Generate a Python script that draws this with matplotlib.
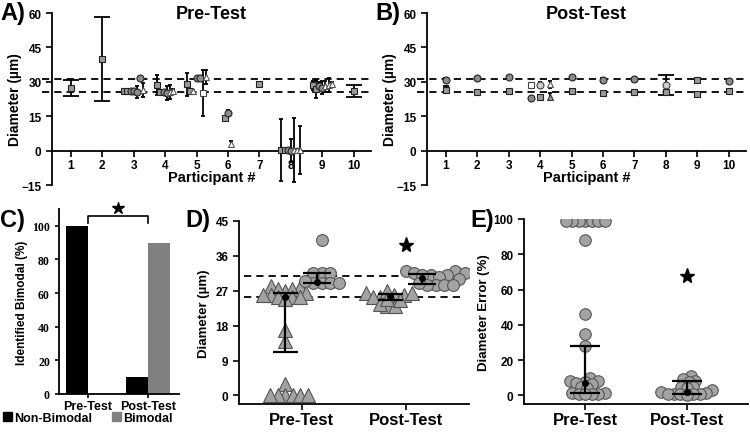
import matplotlib.pyplot as plt
import numpy as np
from matplotlib.patches import Patch

plt.rcParams['font.family'] = ['Liberation Sans', 'DejaVu Sans']
plt.rcParams['font.weight'] = 'bold'
plt.rcParams['axes.labelweight'] = 'bold'
plt.rcParams['axes.linewidth'] = 1.3

participants = [1, 2, 3, 4, 5, 6, 7, 8, 9, 10]
ref_hi = 31.2
ref_lo = 25.6

# panel A - pre-test, one list per participant (mean, sd, marker kind)
pre_means = [[27.5], [40], [26, 26, 26, 26, 25.5, 31.5, 26.5],
             [28.5, 25.5, 25.5, 25, 25.5, 26],
             [29, 26, 26, 31.5, 31.5, 25, 32], [14, 16.5, 3], [29],
             [0.3, 0.3, 0.3, 0, 0.3, 0.3, 0.3],
             [28.5, 27, 28, 27.5, 28, 28.5, 29], [26]]
pre_sds = [[3.5], [18.3], [0.3, 0.3, 0.3, 0.5, 2.5, 0.5, 3],
           [4.3, 0.5, 0.8, 3, 3, 1],
           [5, 0.3, 0.3, 0.3, 0.5, 10, 3], [1, 1, 1.2], [1],
           [13.5, 0.3, 0.3, 5, 14, 0.5, 10.5],
           [2, 4, 2, 3, 2.5, 3, 1], [2.5]]
pre_kinds = [['sq'], ['sq'], ['sq', 'sq', 'ci', 'ci', 'ci', 'ci', 'tr'],
             ['sq', 'sq', 'ci', 'ci', 'tr', 'tr'],
             ['sq', 'sq', 'tr', 'ci', 'ci', 'os', 'tr'], ['sq', 'ci', 'tr'], ['sq'],
             ['sq', 'sq', 'ci', 'ci', 'tr', 'tr', 'tr'],
             ['sq', 'sq', 'ci', 'ci', 'tr', 'tr', 'tr'], ['sq']]

# panel B - post-test, upper and lower modes
post_up_means = [[31], [31.5], [32], [28.5, 28.5, 29], [32], [31], [31.2], [28.5], [30.8], [30.5]]
post_up_sds = [[0.5], [0.5], [0.5], [0.5, 1.3, 1.5], [0.4], [0.5], [0.5], [4.3], [0.8], [0.5]]
post_up_kinds = [['ci'], ['ci'], ['ci'], ['os', 'oc', 'tr'], ['ci'], ['ci'], ['ci'], ['oc'], ['sq'], ['ci']]
post_lo_means = [[26.5], [25.6], [26], [23, 23.5, 23.5], [26], [25], [25.5], [25.5], [24.5], [25.8]]
post_lo_sds = [[1.5], [0.4], [0.5], [0.3, 0.5, 1.5], [0.5], [0.6], [0.4], [0.8], [1.2], [0.4]]
post_lo_kinds = [['sq'], ['sq'], ['sq'], ['ci', 'sq', 'tg'], ['sq'], ['sq'], ['sq'], ['sq'], ['sq'], ['sq']]

# panel C
tests = ['Pre-Test', 'Post-Test']
non_bimodal = [100, 10]
bimodal = [0, 90]

# panel D - individual diameters
pre_tri = [27, 28, 28.3, 27.5, 27.5, 25.5, 26, 26, 25.5, 26.5, 25.5, 25,
           14, 17, 3, 0, 0, 0, 0, 0, 0]
pre_circ = [40, 31.5, 31.5, 31.5, 29, 29, 29, 29, 29.5]
post_tri = [25.5, 26, 26.5, 27, 26, 25.5, 26.5, 23, 23.5, 23, 24.5, 25]
post_circ = [32, 32, 31.5, 31, 31, 30.5, 31, 31.5, 30, 28.5, 28.5, 28.5, 28.5, 29]
tri_med = [25.3, 25.6]
tri_q1 = [11.3, 24.6]
tri_q3 = [26.3, 26.1]
circ_med = [29.3, 30.4]
circ_q1 = [28.9, 28.8]
circ_q3 = [31.5, 31.3]

# panel E - diameter error
pre_err = [99, 99, 99, 99, 99, 99, 99, 88, 46, 35, 28, 10, 8, 8, 7.5, 7, 6.5,
           4.5, 4, 1.5, 1.2, 1, 0.8, 0.7, 0.5]
post_err = [11, 9, 8, 7.5, 5, 4.5, 4, 3, 2, 1.5, 1, 1, 0.8, 0.6, 0.5, 0.3]
err_med = [7, 2]
err_q1 = [1.5, 1]
err_q3 = [28, 8]

styles = {
    'sq': dict(marker='s', mfc='#9a9a9a', mec='#222222'),
    'ci': dict(marker='o', mfc='#8c8c8c', mec='#222222'),
    'tr': dict(marker='^', mfc='white', mec='#555555'),
    'tg': dict(marker='^', mfc='#9a9a9a', mec='#333333'),
    'os': dict(marker='s', mfc='white', mec='#444444'),
    'oc': dict(marker='o', mfc='#cccccc', mec='#444444'),
}
gray = '#a3a3a3'
edge = '#555555'

fig = plt.figure(figsize=(7.5, 4.35), dpi=100)


def panel_letter(x, y, s):
    fig.text(x, y, s, fontsize=17, fontweight='bold', ha='left', va='center')


def participant_axes(rect, title):
    ax = fig.add_axes(rect)
    ax.set_xlim(0.4, 10.55)
    ax.set_ylim(-15, 60)
    ax.spines['top'].set_visible(False)
    ax.spines['right'].set_visible(False)
    ax.spines['bottom'].set_position(('data', 0))
    ax.set_xticks(participants)
    ax.set_yticks([-15, 0, 15, 30, 45, 60])
    ax.tick_params(labelsize=8.5, width=1.2, length=4)
    ax.tick_params(axis='x', pad=2)
    ax.set_ylabel('Diameter (µm)', fontsize=10)
    ax.yaxis.set_label_coords(-0.094, 0.5)
    ax.set_xlabel('Participant #', fontsize=10.5)
    ax.xaxis.set_label_coords(0.5, 0.085)
    for v in (ref_hi, ref_lo):
        ax.axhline(v, xmin=-0.03, xmax=1, color='black', lw=1.3,
                   dashes=(4, 2.8), clip_on=False, zorder=1)
    ax.text(0.5, 1.0, title, transform=ax.transAxes, ha='center', va='center',
            fontsize=13, fontweight='bold')
    return ax


def draw_group(ax, p, means, sds, kinds, spacing):
    n = len(means)
    for i in range(n):
        x = p + (i - (n - 1) / 2) * spacing
        cap = (6 if sds[i] > 1.5 else 2.5) if n == 1 else 1.5
        ax.errorbar(x, means[i], yerr=sds[i], color='black', lw=1.3,
                    capsize=cap, capthick=1.3, zorder=2, fmt='none')
        ax.plot(x, means[i], ms=5, mew=0.8, ls='none', zorder=3,
                **styles[kinds[i]])


ax_a = participant_axes([0.0693, 0.5724, 0.4253, 0.3954], 'Pre-Test')
for j, p in enumerate(participants):
    draw_group(ax_a, p, pre_means[j], pre_sds[j], pre_kinds[j], 0.1)

ax_b = participant_axes([0.5693, 0.5724, 0.4253, 0.3954], 'Post-Test')
for j, p in enumerate(participants):
    draw_group(ax_b, p, post_up_means[j], post_up_sds[j], post_up_kinds[j], 0.3)
    draw_group(ax_b, p, post_lo_means[j], post_lo_sds[j], post_lo_kinds[j], 0.3)

panel_letter(0.0, 0.968, 'A)')
panel_letter(0.5, 0.968, 'B)')

# panel C
ax_c = fig.add_axes([0.0787, 0.092, 0.16, 0.4253])
xc = np.arange(len(tests))
w = 0.37
ax_c.bar(xc - w / 2, non_bimodal, w, color='black')
ax_c.bar(xc + w / 2, bimodal, w, color='#808080')
ax_c.set_xlim(-0.48, 1.52)
ax_c.set_ylim(0, 110)
ax_c.spines['top'].set_visible(False)
ax_c.spines['right'].set_visible(False)
ax_c.set_xticks(xc)
ax_c.set_xticklabels(tests, fontsize=9)
ax_c.set_yticks([0, 20, 40, 60, 80, 100])
ax_c.set_yticklabels([0, 20, 40, 60, 80, 100], family='Liberation Serif',
                     fontsize=8.5, fontweight='bold')
ax_c.tick_params(width=1.2, length=3)
ax_c.tick_params(axis='x', pad=1.5)
ax_c.set_ylabel('Identified Bimodal (%)', fontsize=8.5)
ax_c.yaxis.set_label_coords(-0.26, 0.5)
ax_c.plot([0, 0, 1, 1], [101.5, 106, 106, 101.5], color='black', lw=1.2,
          clip_on=False)
ax_c.plot(0.5, 110.5, marker='*', ms=9, color='black', clip_on=False)
ax_c.legend(handles=[Patch(color='black', label='Non-Bimodal'),
                     Patch(color='#808080', label='Bimodal')],
            loc='center', bbox_to_anchor=(0.24, -0.13), ncol=2, frameon=False,
            fontsize=9, handlelength=0.7, handleheight=0.7, handletextpad=0.15,
            columnspacing=1.6, borderaxespad=0)
panel_letter(0.0, 0.494, 'C)')


def swarm(ax, values, center, diam):
    pts = ax.transData.transform(np.column_stack([np.full(len(values), center),
                                                  values]))
    cx = pts[0, 0]
    ys = pts[:, 1]
    xs = np.zeros(len(values))
    placed = []
    for i in np.argsort(ys, kind='stable'):
        y = ys[i]
        cands = [0.0]
        for px, py in placed:
            dy = y - py
            if abs(dy) < diam:
                dx = np.sqrt(diam ** 2 - dy ** 2)
                cands += [px + dx, px - dx]
        for c in sorted(cands, key=abs):
            if all((c - px) ** 2 + (y - py) ** 2 >= diam ** 2 - 1e-6
                   for px, py in placed):
                xs[i] = c
                placed.append((c, y))
                break
    inv = ax.transData.inverted()
    return inv.transform(np.column_stack([cx + xs, ys]))[:, 0]


def summary(ax, x, med, q1, q3, cap):
    ax.errorbar(x, med, yerr=[[med - q1], [q3 - med]], fmt='o', color='black',
                ms=4, capsize=cap, capthick=1.6, elinewidth=1.6, zorder=4)


def dot_axes(rect, ylim, yticks, ylabel, labx):
    ax = fig.add_axes(rect)
    ax.set_xlim(-0.6, 1.6)
    ax.set_ylim(*ylim)
    ax.spines['top'].set_visible(False)
    ax.spines['right'].set_visible(False)
    ax.set_xticks([0, 1])
    ax.set_xticklabels(tests, fontsize=12)
    ax.set_yticks(yticks)
    ax.tick_params(axis='y', labelsize=8.5, width=1.2, length=4)
    ax.tick_params(axis='x', width=1.2, length=4, pad=1.5)
    ax.set_ylabel(ylabel, fontsize=9.5)
    ax.yaxis.set_label_coords(labx, 0.5)
    return ax


# panel D
ax_d = dot_axes([0.3187, 0.069, 0.3067, 0.4207], (-2.2, 45),
                [0, 9, 18, 27, 36, 45], 'Diameter (µm)', -0.126)
for v in (30.7, 25.4):
    ax_d.axhline(v, xmin=0.02, xmax=0.97, color='black', lw=1.3,
                 dashes=(4, 2.8), zorder=1)
tri_shift = [-0.16, -0.18]
circ_shift = [0.19, 0.28]
for k, (tri, circ) in enumerate([(pre_tri, pre_circ), (post_tri, post_circ)]):
    tx = swarm(ax_d, tri, k + tri_shift[k], 7.5)
    ax_d.plot(tx, tri, ls='none', marker='^', ms=10, mfc=gray, mec=edge,
              mew=0.8, zorder=2)
    ox = swarm(ax_d, circ, k + circ_shift[k], 8.5)
    ax_d.plot(ox, circ, ls='none', marker='o', ms=8.5, mfc=gray, mec=edge,
              mew=0.8, zorder=2)
    summary(ax_d, k - 0.16, tri_med[k], tri_q1[k], tri_q3[k], 9)
    summary(ax_d, k + 0.15, circ_med[k], circ_q1[k], circ_q3[k], 10)
ax_d.plot(1, 38.9, marker='*', ms=11, color='black')
panel_letter(0.247, 0.494, 'D)')

# panel E
ax_e = dot_axes([0.6987, 0.069, 0.2987, 0.4253], (-4.9, 100),
                [0, 20, 40, 60, 80, 100], 'Diameter Error (%)', -0.152)
for k, vals in enumerate([pre_err, post_err]):
    ex = swarm(ax_e, vals, k, 6.5)
    ax_e.plot(ex, vals, ls='none', marker='o', ms=8.3, mfc=gray, mec=edge,
              mew=0.8, zorder=2)
    summary(ax_e, k, err_med[k], err_q1[k], err_q3[k], 11)
ax_e.plot(1, 67.6, marker='*', ms=11, color='black')
panel_letter(0.627, 0.494, 'E)')

plt.savefig('out.png', dpi=100)
